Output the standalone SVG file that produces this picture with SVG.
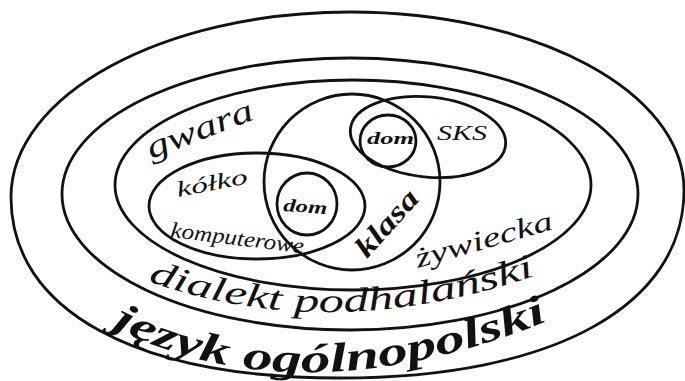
<svg xmlns="http://www.w3.org/2000/svg" width="685" height="381" viewBox="0 0 685 381">
<style>
.shape{fill:none;stroke:#111;stroke-width:2.8}
.hand{font-family:"Liberation Serif","DejaVu Serif",serif;font-style:italic;fill:#111}
.b{font-weight:bold}
</style>
<defs>
<path id="arcDialekt" d="M148,281 Q330,346 537,275"/>
<path id="arcJezyk" d="M112,327 Q300,421 550,320"/>
</defs>
<rect width="685" height="381" fill="#fff"/>
<g id="jezyk-ogolnopolski">
<path class="shape" d="M11,197 C11,95 163,12 350,12 C536,12 684,92 684,190 C684,305 555,378 340,378 C136,378 11,311 11,197 Z"/>
<text class="hand b" font-size="41"><textPath href="#arcJezyk" textLength="450" lengthAdjust="spacingAndGlyphs">język ogólnopolski</textPath></text>
</g>
<g id="dialekt-podhalanski">
<ellipse class="shape" cx="350" cy="194" rx="288" ry="136"/>
<text class="hand" font-size="34"><textPath href="#arcDialekt" textLength="395" lengthAdjust="spacingAndGlyphs">dialekt podhalański</textPath></text>
</g>
<g id="gwara-zywiecka">
<ellipse class="shape" cx="353" cy="185" rx="238" ry="105"/>
<text class="hand" font-size="33" transform="translate(151,159) rotate(-21)" textLength="112" lengthAdjust="spacingAndGlyphs">gwara</text>
<text class="hand" font-size="28" transform="translate(418,268) rotate(-16)" textLength="142" lengthAdjust="spacingAndGlyphs">żywiecka</text>
</g>
<g id="klasa">
<circle class="shape" cx="352" cy="182" r="88"/>
<text class="hand b" font-size="29" transform="translate(367,259) rotate(-48)" textLength="80" lengthAdjust="spacingAndGlyphs">klasa</text>
</g>
<g id="kolko-komputerowe">
<ellipse class="shape" cx="257" cy="206" rx="108" ry="53"/>
<text class="hand" font-size="22" transform="translate(178,197) rotate(-11)" textLength="72" lengthAdjust="spacingAndGlyphs">kółko</text>
<text class="hand" font-size="22" transform="translate(170,237) rotate(7)" textLength="134" lengthAdjust="spacingAndGlyphs">komputerowe</text>
</g>
<g id="sks">
<ellipse class="shape" cx="428" cy="137" rx="78" ry="40" transform="rotate(6 428 137)"/>
<text class="hand" font-size="20" x="437" y="140" textLength="50" lengthAdjust="spacingAndGlyphs">SKS</text>
</g>
<g id="dom-klasa-kolko">
<ellipse class="shape" cx="307" cy="204" rx="30" ry="31"/>
<text class="hand b" font-size="18" transform="translate(283,211) rotate(4)" textLength="44" lengthAdjust="spacingAndGlyphs">dom</text>
</g>
<g id="dom-klasa-sks">
<ellipse class="shape" cx="388" cy="141" rx="28" ry="26"/>
<text class="hand b" font-size="17" x="367" y="144" textLength="47" lengthAdjust="spacingAndGlyphs">dom</text>
</g>
<g id="connectors"/>
</svg>
